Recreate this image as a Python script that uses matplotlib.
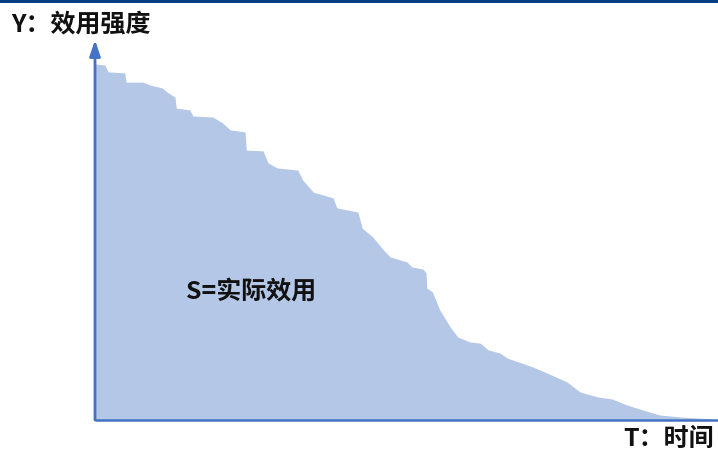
import matplotlib
matplotlib.use("Agg")
import matplotlib.pyplot as plt
from matplotlib.patches import Rectangle

plt.rcParams['font.family'] = ['Noto Sans CJK SC', 'DejaVu Sans']

# Utility intensity over time (time 0-100, intensity 0-100)
time = [0.0, 1.6, 2.1, 4.8, 5.0, 7.7, 8.9, 10.8, 11.8, 12.9, 13.1, 15.3, 15.8,
        19.0, 20.6, 21.8, 24.2, 24.4, 27.1, 27.9, 29.4, 32.7, 33.5, 35.2, 38.4,
        39.0, 42.4, 43.1, 44.8, 46.5, 47.6, 50.3, 51.1, 52.9, 53.4, 53.5, 54.4,
        55.6, 57.3, 58.5, 60.5, 62.1, 63.4, 65.3, 66.5, 70.6, 72.9, 76.1, 78.2,
        81.0, 83.4, 85.8, 88.4, 91.1, 94.8, 99.5]
utility = [100.0, 99.7, 97.8, 97.5, 94.9, 94.9, 94.1, 93.3, 91.9, 90.7, 87.6,
           87.1, 85.4, 85.1, 83.4, 81.5, 80.9, 75.8, 75.6, 72.2, 70.8, 70.2,
           67.4, 64.0, 62.4, 59.6, 58.4, 53.9, 51.4, 47.8, 45.8, 44.4, 43.0,
           42.4, 41.3, 37.1, 36.0, 30.9, 26.1, 23.3, 21.9, 21.6, 19.7, 18.8,
           17.4, 14.9, 13.2, 10.7, 7.9, 6.5, 5.9, 4.2, 2.8, 1.4, 0.8, 0.3]

y_label = "Y：效用强度"
x_label = "T：时间"
area_label = "S=实际效用"

W, H = 718, 453
fig = plt.figure(figsize=(W / 100, H / 100), dpi=100)
fig.patch.set_facecolor('white')

ax = fig.add_axes([95 / W, (H - 420) / H, (W - 95) / W, 380 / H])
xmax, ymax = 100.48, 106.74
ax.set_xlim(0, xmax)
ax.set_ylim(0, ymax)
ax.axis('off')

axis_color = '#4472C4'
ax.fill_between(time, utility, 0, color='#B4C7E7', lw=0, zorder=1)

# horizontal time axis
ax.plot([0, xmax], [0, 0], color=axis_color, lw=1.8, clip_on=False, zorder=3,
        solid_capstyle='butt')
# vertical axis with arrowhead
ax.annotate('', xy=(0, ymax), xytext=(0, 0),
            arrowprops=dict(arrowstyle='-|>,head_length=0.95,head_width=0.32',
                            color=axis_color, lw=2.0, shrinkA=0, shrinkB=0,
                            mutation_scale=10),
            annotation_clip=False, zorder=4)

# dark band along the top edge
fig.patches.append(Rectangle((0, 1 - 3 / H), 1, 3 / H, transform=fig.transFigure,
                             color='#033E82', lw=0))

label_style = dict(fontsize=18, fontweight='bold', va='center', color='#111111')
fig.text(11 / W, 1 - 25 / H, y_label, ha='left', **label_style)
fig.text(714 / W, 1 - 439 / H, x_label, ha='right', **label_style)
fig.text(186 / W, 1 - 292 / H, area_label, ha='left', **label_style)

fig.savefig('out.png', dpi=100)
